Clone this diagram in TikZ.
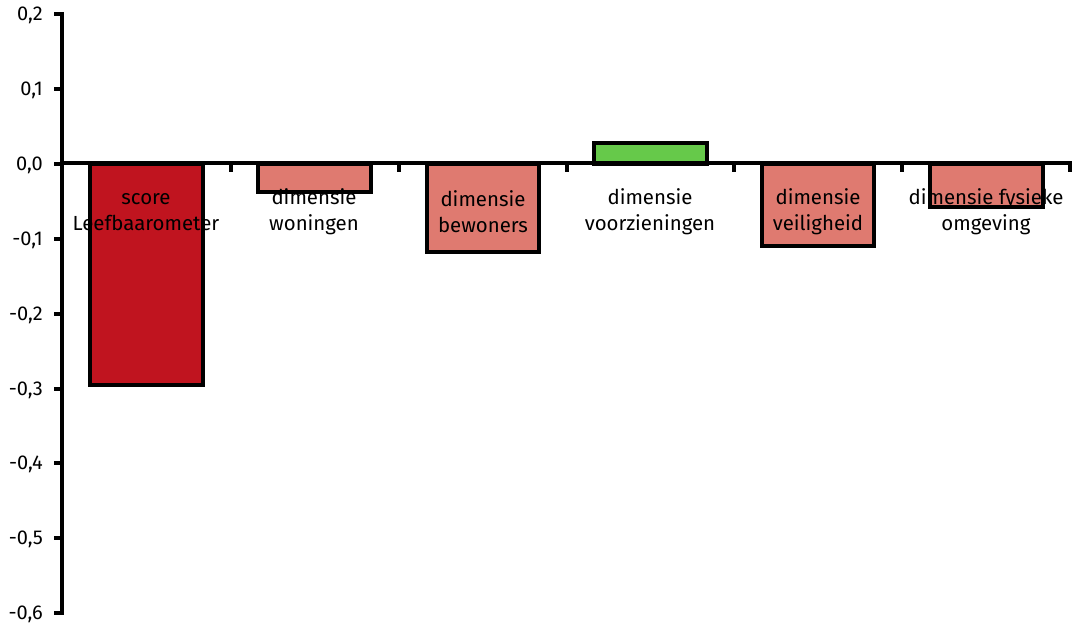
\documentclass[tikz,border=0pt]{standalone}
\usepackage{fontspec}
\setmainfont{Fira Sans}
\definecolor{darkbar}{HTML}{C0141F}
\definecolor{lightbar}{HTML}{DF7A70}
\definecolor{greenbar}{HTML}{66C94A}
\begin{document}
\begin{tikzpicture}[x=1pt,y=-1pt,
  bar/.style={draw=black,line width=3.6pt},
  axisline/.style={draw=black,line width=4pt},
  tickline/.style={draw=black,line width=4pt},
  ylab/.style={anchor=east,inner sep=0pt,font=\fontsize{20}{22}\selectfont},
  catlab/.style={align=center,inner sep=0pt,font=\fontsize{20.4}{26}\selectfont}]
\useasboundingbox (0,0) rectangle (1072,626);
% bars
\draw[bar,fill=darkbar] (90,164) rectangle (203,385);
\draw[bar,fill=lightbar] (258,164) rectangle (371,192);
\draw[bar,fill=lightbar] (427,164) rectangle (539,252);
\draw[bar,fill=greenbar] (594,164) rectangle (707,143);
\draw[bar,fill=lightbar] (762,164) rectangle (874,246);
\draw[bar,fill=lightbar] (930,164) rectangle (1043,207);
% axes
\draw[axisline] (62,12) -- (62,615);
\draw[axisline] (62,163) -- (1072,163);
\foreach \y in {14,89,164,239,314,389,463,538,613}
  \draw[tickline] (54,\y) -- (62,\y);
\foreach \x in {231,399,567,734,902,1070}
  \draw[tickline] (\x,163) -- (\x,172);
% y labels
\node[ylab] (y2) at (43,15) {0,2};
\node[ylab] (y1) at (43,90) {0,1};
\node[ylab] (y0) at (43,165) {0,0};
\node[ylab] (ym1) at (43,240) {-0,1};
\node[ylab] (ym2) at (43,315) {-0,2};
\node[ylab] (ym3) at (43,390) {-0,3};
\node[ylab] (ym4) at (43,464) {-0,4};
\node[ylab] (ym5) at (43,539) {-0,5};
\node[ylab] (ym6) at (43,614) {-0,6};
% category labels
\node[catlab] (c1) at (146,212) {score\\Leefbaarometer};
\node[catlab] (c2) at (314,212) {dimensie\\woningen};
\node[catlab] (c3) at (483,212) {dimensie\\bewoners};
\node[catlab] (c4) at (650,212) {dimensie\\voorzieningen};
\node[catlab] (c5) at (818,212) {dimensie\\veiligheid};
\node[catlab] (c6) at (986,212) {dimensie fysieke\\omgeving};
\end{tikzpicture}
\end{document}
